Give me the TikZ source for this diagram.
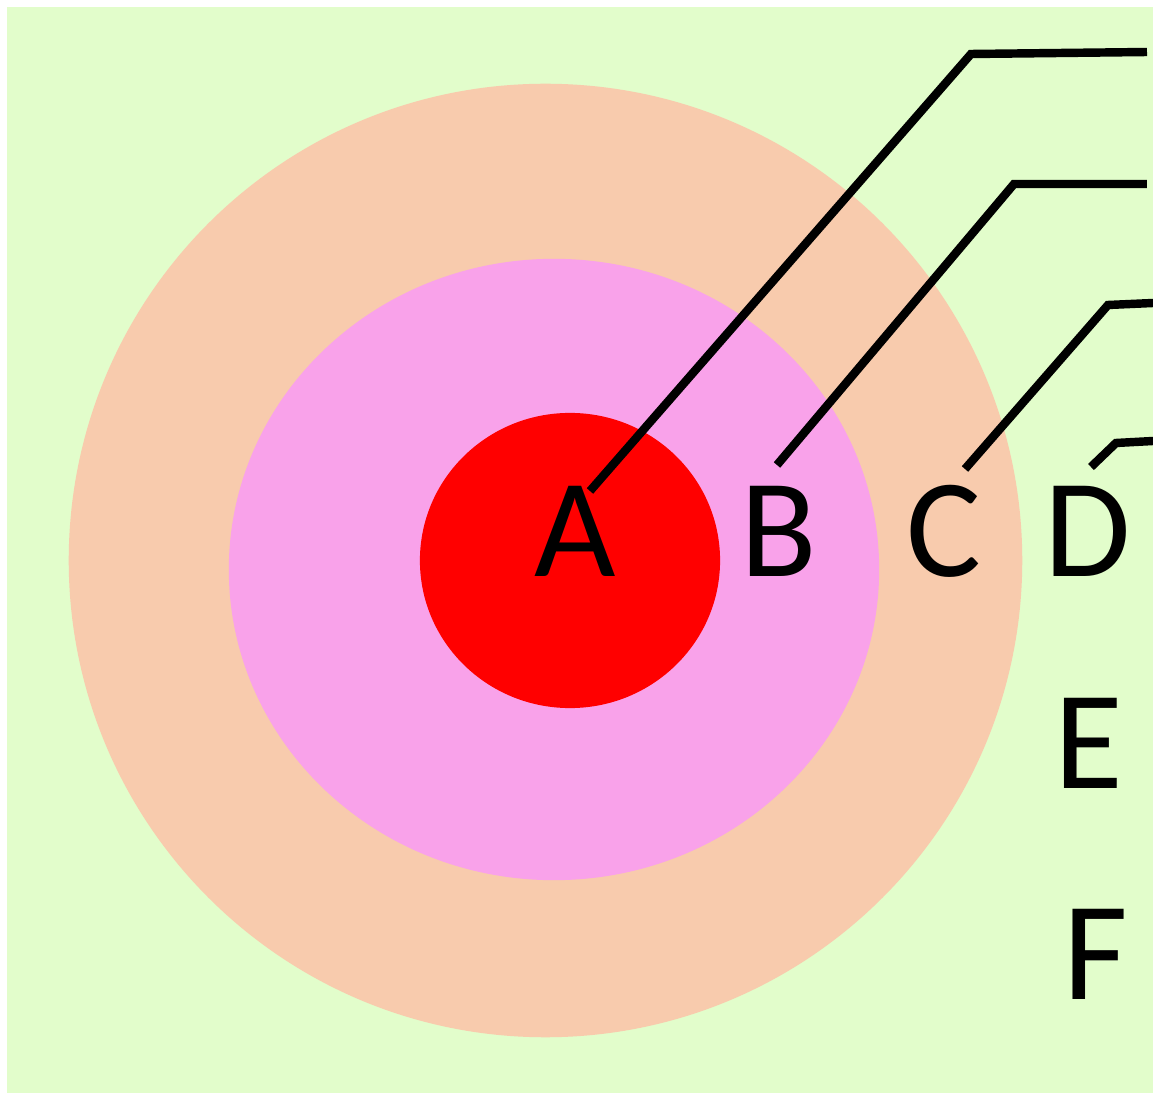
\documentclass[tikz,border=0pt]{standalone}
\usepackage{fontspec}
\setmainfont{Carlito}
\definecolor{bggreen}{RGB}{226,253,203}
\definecolor{peach}{RGB}{248,203,173}
\definecolor{pinkish}{RGB}{249,162,234}
\definecolor{redfill}{RGB}{255,0,0}
\begin{document}
\begin{tikzpicture}[x=0.01cm,y=-0.01cm,
  letter/.style={anchor=base,inner sep=0pt,font=\fontsize{40}{48}\selectfont,text=black},
  leader/.style={line width=2.4pt,black,line join=miter}]
\useasboundingbox (0,0) rectangle (1153,1094);
\fill[white] (0,0) rectangle (1153,1094);
\fill[bggreen] (7,7) rectangle (1153,1093);
\fill[peach] (545.5,560.5) ellipse [x radius=4.765cm, y radius=4.765cm];
\fill[pinkish] (554,569.5) ellipse [x radius=3.25cm, y radius=3.105cm];
\fill[redfill] (570,560.5) ellipse [x radius=1.5cm, y radius=1.475cm];
\node[letter] (A) at (575,577) {A};
\node[letter] (B) at (779,577) {B};
\node[letter] (C) at (944,577) {C};
\node[letter] (D) at (1088,577) {D};
\node[letter] (E) at (1089,789) {E};
\node[letter] (F) at (1096,1000) {F};
\coordinate (a0) at (590,491);
\coordinate (a1) at (971,54);
\coordinate (a2) at (1147,52);
\coordinate (b0) at (777,465);
\coordinate (b1) at (1014,184);
\coordinate (b2) at (1147,184);
\coordinate (c0) at (965,469);
\coordinate (c1) at (1108,305);
\coordinate (c2) at (1153,303);
\coordinate (d0) at (1091,467);
\coordinate (d1) at (1116,443);
\coordinate (d2) at (1153,441);
\draw[leader] (a0) -- (a1) -- (a2);
\draw[leader] (b0) -- (b1) -- (b2);
\draw[leader] (c0) -- (c1) -- (c2);
\draw[leader] (d0) -- (d1) -- (d2);
\end{tikzpicture}
\end{document}
